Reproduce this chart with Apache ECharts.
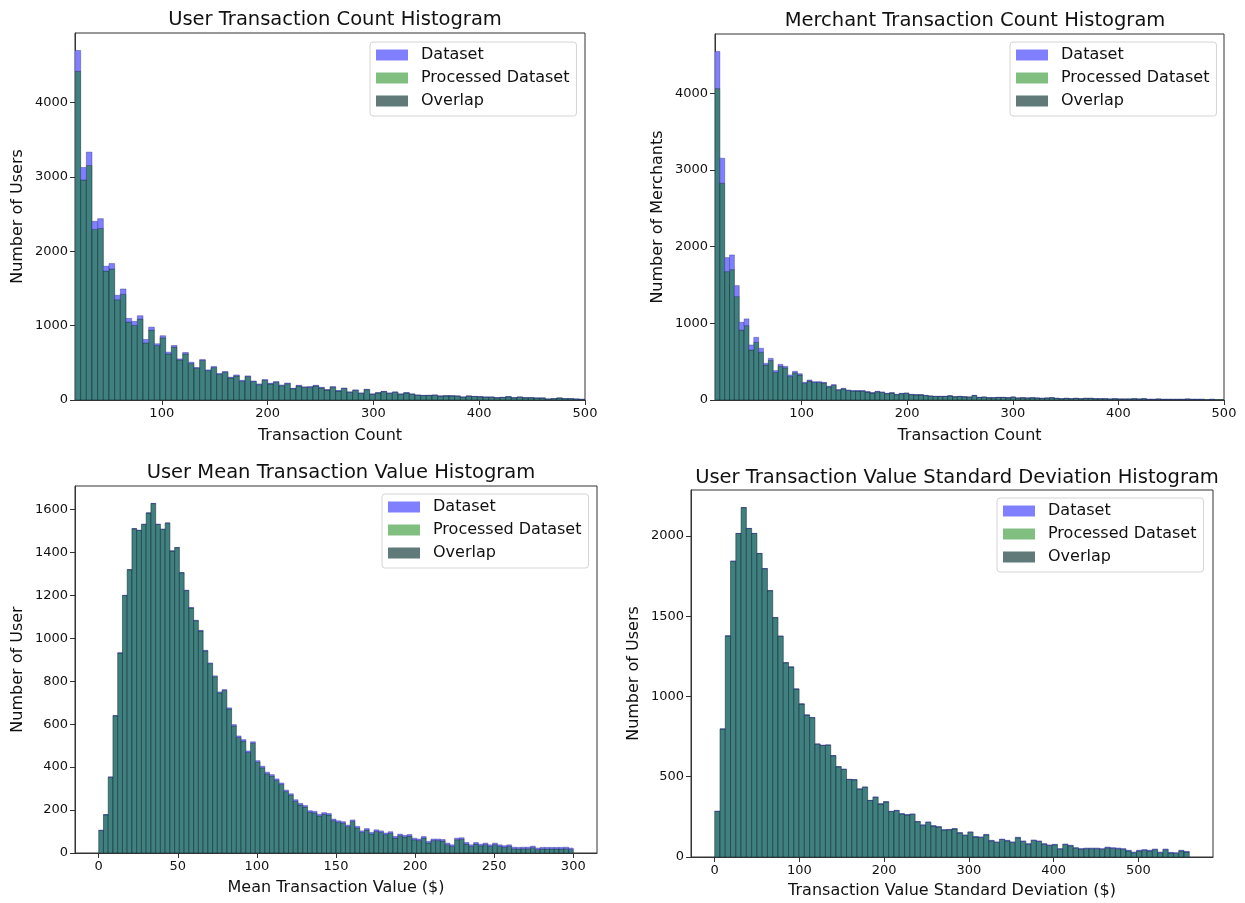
<!DOCTYPE html>
<html><head><meta charset="utf-8">
<script src="https://cdn.jsdelivr.net/npm/echarts@6/dist/echarts.min.js"></script>
<style>html,body{margin:0;padding:0;background:#fff}#c{width:1245px;height:903px}</style>
</head><body><div id="c"></div>
<script>
// ---------------- DATA ----------------
const seriesNames = ['Dataset', 'Processed Dataset', 'Overlap'];
const titles = ['User Transaction Count Histogram', 'Merchant Transaction Count Histogram',
  'User Mean Transaction Value Histogram', 'User Transaction Value Standard Deviation Histogram'];
const xNames = ['Transaction Count', 'Transaction Count', 'Mean Transaction Value ($)', 'Transaction Value Standard Deviation ($)'];
const yNames = ['Number of Users', 'Number of Merchants', 'Number of User', 'Number of Users'];

// bin edges: first edge and bin width (x units)
const binStart = [18, 18, 0, 0];
const binWidth = [5.3556, 4.5905, 3, 6.2222];

// axis ranges and tick labels
const xRange = [[18, 500], [18, 500], [-15, 315], [-28, 588]];
const yRange = [[0, 4935], [0, 4772], [0, 1709], [0, 2286]];
const xTicks = [[100, 200, 300, 400, 500], [100, 200, 300, 400, 500], [0, 50, 100, 150, 200, 250, 300], [0, 100, 200, 300, 400, 500]];
const yTicks = [[0, 1000, 2000, 3000, 4000], [0, 1000, 2000, 3000, 4000], [0, 200, 400, 600, 800, 1000, 1200, 1400, 1600], [0, 500, 1000, 1500, 2000]];

const userCountDataset = [4700, 3126, 3333, 2402, 2438, 1799, 1835, 1408, 1493, 1097, 1057, 1133, 814, 980, 756, 864,
  643, 733, 553, 639, 508, 436, 544, 405, 450, 355, 382, 306, 337, 265, 324, 256, 216, 274, 225, 247, 202, 229, 157, 198, 175, 180, 198, 171, 139,
  179, 126, 161, 108, 135, 94, 144, 81, 99, 117, 94, 108, 81, 99, 81, 67, 63, 63, 67, 54, 58, 58, 54, 40, 54, 49, 45, 40, 40, 31, 36, 45, 31, 40, 31, 31, 27, 27, 13, 18, 27, 18, 18, 13, 9];
const userCountProcessed = [4420, 2960, 3153, 2294, 2307, 1736, 1763, 1349, 1421, 1048, 1003, 1088, 769, 940, 733, 837,
  621, 711, 540, 621, 490, 427, 531, 396, 436, 346, 373, 297, 324, 252, 315, 248, 207, 265, 216, 238, 193, 220, 153, 189, 171, 171, 189, 162, 135,
  172, 121, 155, 104, 130, 90, 139, 78, 95, 113, 90, 104, 78, 95, 78, 64, 60, 61, 64, 52, 56, 55, 52, 38, 52, 47, 43, 38, 38, 30, 34, 43, 30, 38, 30, 30, 26, 26, 12, 17, 26, 17, 17, 12, 8];

const merchantCountDataset = [4545, 3152, 1857, 1891, 1491, 1013, 1057, 717, 817, 674,
  478, 543, 383, 465, 439, 326, 374, 343, 230, 261,
  239, 239, 230, 180, 200, 135, 152, 130, 122, 122,
  122, 109, 96, 113, 104, 87, 96, 74, 87, 91,
  74, 70, 70, 61, 52, 48, 48, 48, 56, 43,
  48, 43, 39, 61, 35, 39, 30, 30, 35, 35,
  30, 39, 26, 30, 26, 30, 26, 22, 26, 30,
  22, 17, 22, 17, 22, 17, 22, 22, 17, 17,
  17, 13, 17, 13, 13, 13, 17, 13, 17, 9,
  9, 13, 9, 9, 9, 9, 9, 13, 9, 9,
  9, 4, 9, 4, 4];
const merchantCountProcessed = [4060, 2826, 1674, 1700, 1348, 912, 970, 652, 752, 622,
  457, 515, 361, 440, 420, 306, 356, 326, 218, 248,
  228, 228, 220, 172, 191, 128, 145, 124, 116, 117,
  116, 104, 91, 108, 99, 83, 91, 70, 83, 87,
  70, 67, 67, 58, 50, 46, 46, 46, 53, 41,
  46, 41, 37, 58, 33, 37, 29, 29, 33, 33,
  29, 37, 25, 29, 25, 29, 25, 21, 25, 29,
  21, 16, 21, 16, 21, 16, 21, 21, 16, 16,
  16, 12, 16, 12, 12, 12, 16, 12, 16, 8,
  8, 12, 8, 8, 8, 8, 8, 12, 8, 8,
  8, 4, 8, 4, 4];

const meanValueDataset = [106, 179, 354, 640, 932, 1200, 1320, 1511, 1503, 1531,
  1584, 1628, 1531, 1508, 1537, 1407, 1423, 1306, 1224, 1143,
  1084, 1037, 944, 885, 825, 750, 761, 676, 598, 545,
  528, 475, 518, 430, 404, 376, 365, 345, 326, 293,
  276, 248, 231, 221, 197, 194, 180, 188, 184, 158,
  150, 146, 130, 154, 124, 103, 114, 96, 108, 103,
  93, 99, 77, 88, 82, 86, 69, 65, 77, 54,
  65, 65, 63, 46, 38, 69, 71, 49, 38, 49,
  41, 46, 38, 46, 38, 34, 38, 27, 26, 27,
  27, 32, 23, 26, 26, 26, 26, 26, 27, 23];
const meanValueProcessed = [105, 178, 353, 639, 931, 1199, 1319, 1510, 1502, 1530,
  1583, 1627, 1530, 1507, 1536, 1406, 1422, 1305, 1222, 1141,
  1082, 1034, 941, 882, 821, 746, 757, 671, 592, 538,
  521, 468, 511, 423, 397, 369, 358, 338, 319, 286,
  269, 241, 224, 214, 190, 187, 173, 181, 177, 151,
  143, 139, 123, 147, 117, 96, 107, 89, 101, 96,
  86, 92, 70, 81, 75, 79, 62, 58, 70, 47,
  58, 58, 56, 39, 31, 62, 64, 42, 31, 42,
  34, 39, 31, 39, 31, 27, 31, 20, 19, 20,
  20, 25, 16, 19, 19, 19, 19, 19, 20, 16];

const stdValueDataset = [285, 798, 1378, 1843, 2016, 2177, 2047, 2016, 1891, 1797,
  1660, 1492, 1376, 1211, 1184, 1047, 954, 885, 869, 704,
  696, 698, 632, 563, 547, 484, 482, 424, 436, 353,
  374, 332, 345, 285, 291, 270, 264, 268, 222, 200,
  218, 195, 189, 170, 172, 177, 152, 137, 156, 127,
  125, 141, 104, 94, 112, 104, 94, 123, 100, 83,
  106, 100, 83, 75, 79, 52, 81, 73, 58, 52,
  56, 56, 56, 52, 62, 58, 56, 52, 42, 31,
  42, 46, 42, 50, 31, 50, 29, 27, 42, 35];
const stdValueProcessed = [284, 797, 1377, 1842, 2015, 2176, 2046, 2015, 1890, 1796,
  1659, 1491, 1375, 1210, 1183, 1046, 953, 884, 868, 703,
  695, 697, 631, 562, 546, 483, 481, 423, 435, 352,
  372, 330, 343, 283, 289, 268, 262, 266, 220, 198,
  216, 193, 187, 168, 170, 175, 150, 135, 154, 125,
  122, 138, 101, 91, 109, 101, 91, 120, 97, 80,
  103, 97, 80, 72, 76, 49, 78, 70, 55, 49,
  52, 52, 52, 48, 58, 54, 52, 48, 38, 27,
  38, 42, 38, 46, 27, 46, 25, 23, 38, 31];

const datasetCounts = [userCountDataset, merchantCountDataset, meanValueDataset, stdValueDataset];
const processedCounts = [userCountProcessed, merchantCountProcessed, meanValueProcessed, stdValueProcessed];

// ---------------- LAYOUT / STYLE ----------------
const FONT = 'DejaVu Sans';
const grids = [
  { left: 75, top: 33, width: 510, height: 367 },
  { left: 715, top: 34, width: 509, height: 366 },
  { left: 75, top: 486, width: 522, height: 367 },
  { left: 691, top: 490, width: 522, height: 367 }
];
const titlePos = [{ x: 330, y: 5 }, { x: 970, y: 6 }, { x: 336, y: 458 }, { x: 952, y: 463 }];
const legendPos = [{ x: 370, y: 42 }, { x: 1010, y: 42 }, { x: 382, y: 494 }, { x: 997, y: 498 }];
const xNameGap = [28, 28, 27, 26];
const yNameGap = [49, 49, 49, 49];
const colDataset = '#8080ff', colProcessed = '#80bf80', colOverlap = '#408080', colOverlapLegend = '#5f7a79';

function rectRenderer(fill, stroke) {
  return function (params, api) {
    const lo = api.value(2), hi = api.value(3);
    if (!(hi > lo)) return { type: 'group', children: [] };
    const a = api.coord([api.value(0), hi]);
    const b = api.coord([api.value(1), lo]);
    return {
      type: 'rect',
      shape: { x: a[0], y: a[1], width: b[0] - a[0], height: b[1] - a[1] },
      style: { fill: fill, stroke: stroke, lineWidth: 0.7 }
    };
  };
}
const plainNumber = function (v) { return String(v); };

const option = {
  backgroundColor: '#fff',
  animation: false,
  title: [], grid: [], xAxis: [], yAxis: [], legend: [], series: []
};

for (let i = 0; i < 4; i++) {
  const D = datasetCounts[i], P = processedCounts[i];
  const overlap = [], dsExtra = [], prExtra = [];
  for (let k = 0; k < D.length; k++) {
    const x0 = binStart[i] + k * binWidth[i], x1 = x0 + binWidth[i];
    const m = Math.min(D[k], P[k]);
    overlap.push([x0, x1, 0, m]);
    dsExtra.push([x0, x1, m, D[k]]);
    prExtra.push([x0, x1, m, P[k]]);
  }
  option.grid.push(Object.assign({ show: true, borderColor: '#333', borderWidth: 1, backgroundColor: '#fff' }, grids[i]));
  option.title.push({
    text: titles[i], left: titlePos[i].x, top: titlePos[i].y, textAlign: 'center',
    textStyle: { fontFamily: FONT, fontSize: 19.5, fontWeight: 'normal', color: '#111' }
  });
  option.xAxis.push({
    type: 'value', gridIndex: i, min: xRange[i][0], max: xRange[i][1],
    name: xNames[i], nameLocation: 'middle', nameGap: xNameGap[i],
    nameTextStyle: { fontFamily: FONT, fontSize: 16, color: '#111', verticalAlign: 'top' },
    axisLine: { show: true, onZero: false, lineStyle: { color: '#333', width: 1 } },
    axisTick: { show: true, length: 5, customValues: xTicks[i], lineStyle: { color: '#333' } },
    axisLabel: { customValues: xTicks[i], formatter: plainNumber, fontFamily: FONT, fontSize: 13, color: '#111', margin: 7 },
    splitLine: { show: false }
  });
  option.yAxis.push({
    type: 'value', gridIndex: i, min: yRange[i][0], max: yRange[i][1],
    name: yNames[i], nameLocation: 'middle', nameGap: yNameGap[i],
    nameTextStyle: { fontFamily: FONT, fontSize: 16, color: '#111' },
    axisLine: { show: true, onZero: false, lineStyle: { color: '#333', width: 1 } },
    axisTick: { show: true, length: 5, customValues: yTicks[i], lineStyle: { color: '#333' } },
    axisLabel: { customValues: yTicks[i], formatter: plainNumber, fontFamily: FONT, fontSize: 13, color: '#111', margin: 7 },
    splitLine: { show: false }
  });
  option.legend.push({
    orient: 'vertical', left: legendPos[i].x, top: legendPos[i].y,
    itemWidth: 32, itemHeight: 11, itemGap: 7, selectedMode: false,
    padding: [5, 7, 7, 6], borderColor: '#d4d4d4', borderWidth: 1, borderRadius: 3,
    backgroundColor: 'rgba(255,255,255,0.85)',
    textStyle: { fontFamily: FONT, fontSize: 16, color: '#111', padding: [0, 0, 0, 8] },
    data: [
      { name: seriesNames[0], icon: 'rect', itemStyle: { color: colDataset, borderWidth: 0 } },
      { name: seriesNames[1], icon: 'rect', itemStyle: { color: colProcessed, borderWidth: 0 } },
      { name: seriesNames[2], icon: 'rect', itemStyle: { color: colOverlapLegend, borderWidth: 0 } }
    ]
  });
  const common = { type: 'custom', xAxisIndex: i, yAxisIndex: i, clip: true, encode: { x: [0, 1], y: [2, 3] } };
  option.series.push(Object.assign({ name: seriesNames[2], itemStyle: { color: colOverlapLegend },
    renderItem: rectRenderer(colOverlap, 'rgba(10,40,40,0.75)'), data: overlap }, common));
  option.series.push(Object.assign({ name: seriesNames[0], itemStyle: { color: colDataset },
    renderItem: rectRenderer(colDataset, 'rgba(40,40,130,0.55)'), data: dsExtra }, common));
  option.series.push(Object.assign({ name: seriesNames[1], itemStyle: { color: colProcessed },
    renderItem: rectRenderer(colProcessed, 'rgba(30,80,30,0.55)'), data: prExtra }, common));
}

const chart = echarts.init(document.getElementById('c'), null, { renderer: 'canvas' });
chart.setOption(option);
</script>
</body></html>
